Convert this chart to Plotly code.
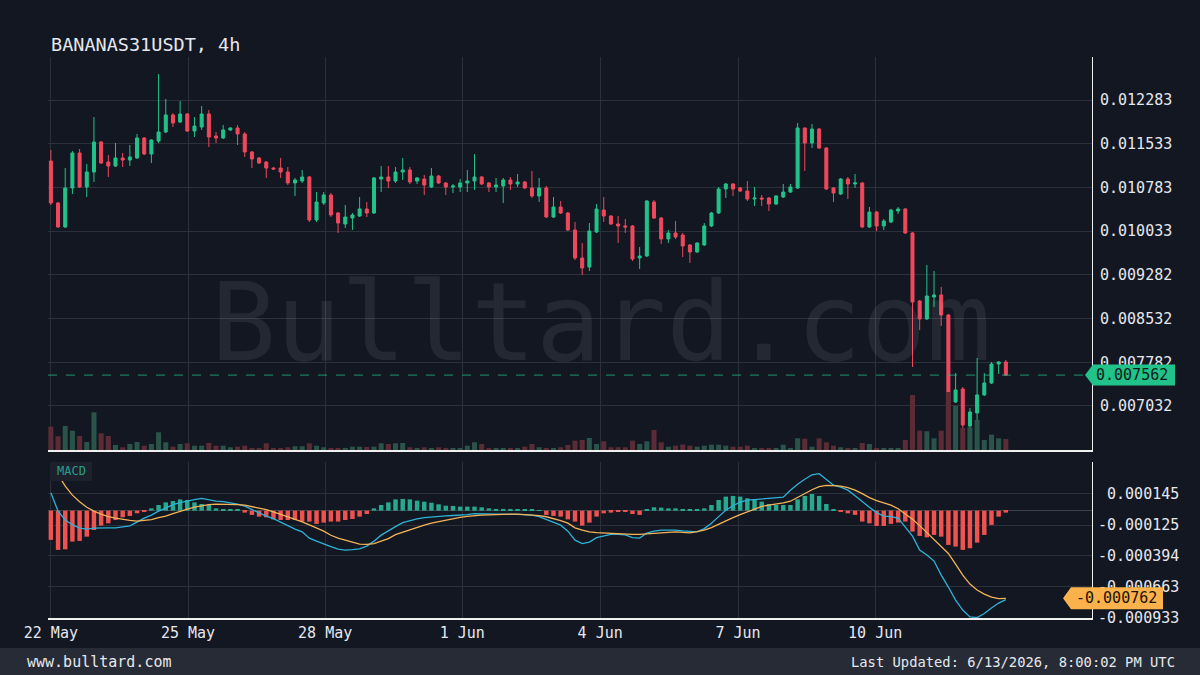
import plotly.graph_objects as go

# 4h candles, 22 May - 13 Jun
opens = [
    0.011236, 0.010516, 0.010104, 0.010773, 0.011374, 0.010790, 0.011047, 0.011562, 0.011219, 0.011150,
    0.011288, 0.011253, 0.011288, 0.011631, 0.011356, 0.011579, 0.011734, 0.012026, 0.011905, 0.012043,
    0.011751, 0.011820, 0.012043, 0.011665, 0.011631, 0.011768, 0.011803, 0.011700, 0.011391, 0.011288,
    0.011219, 0.011116, 0.011116, 0.011047, 0.010859, 0.010893, 0.010962, 0.010224, 0.010516, 0.010653,
    0.010344, 0.010155, 0.010258, 0.010292, 0.010413, 0.010344, 0.010927, 0.010962, 0.010893, 0.011047,
    0.011082, 0.010893, 0.010927, 0.010790, 0.010979, 0.010859, 0.010790, 0.010790, 0.010859, 0.010893,
    0.010962, 0.010859, 0.010790, 0.010807, 0.010910, 0.010842, 0.010876, 0.010773, 0.010636, 0.010773,
    0.010275, 0.010447, 0.010344, 0.010052, 0.009572, 0.009417, 0.010018, 0.010395, 0.010292, 0.010155,
    0.010121, 0.010121, 0.009572, 0.009606, 0.010533, 0.010258, 0.009898, 0.010001, 0.009966, 0.009795,
    0.009675, 0.009795, 0.010121, 0.010344, 0.010756, 0.010842, 0.010773, 0.010721, 0.010584, 0.010601,
    0.010601, 0.010498, 0.010618, 0.010704, 0.010773, 0.011803, 0.011545, 0.011785, 0.011459, 0.010773,
    0.010670, 0.010927, 0.010842, 0.010859, 0.010104, 0.010361, 0.010121, 0.010189, 0.010378, 0.010413,
    0.010001, 0.008834, 0.008525, 0.008902, 0.008937, 0.008594, 0.007101, 0.007324, 0.006689, 0.006912,
    0.007221, 0.007427, 0.007753, 0.007787,
]
highs = [
    0.011425, 0.010533, 0.011116, 0.011408, 0.011442, 0.011185, 0.011991, 0.011579, 0.011339, 0.011545,
    0.011374, 0.011511, 0.011700, 0.011648, 0.011610, 0.012729, 0.012300, 0.012060, 0.012266, 0.012060,
    0.011991, 0.012180, 0.012111, 0.011734, 0.011854, 0.011815, 0.011854, 0.011734, 0.011408, 0.011305,
    0.011236, 0.011133, 0.011288, 0.011133, 0.010945, 0.011082, 0.010979, 0.010704, 0.010704, 0.010687,
    0.010361, 0.010481, 0.010344, 0.010618, 0.010533, 0.010962, 0.011150, 0.011150, 0.011133, 0.011288,
    0.011133, 0.010962, 0.010996, 0.011116, 0.010996, 0.010876, 0.010842, 0.010927, 0.011082, 0.011356,
    0.010979, 0.010876, 0.010945, 0.010945, 0.010962, 0.011013, 0.010893, 0.011065, 0.010945, 0.010807,
    0.010618, 0.010550, 0.010361, 0.010189, 0.009829, 0.010172, 0.010498, 0.010618, 0.010310, 0.010292,
    0.010241, 0.010138, 0.009760, 0.010567, 0.010567, 0.010275, 0.010052, 0.010207, 0.010001, 0.009812,
    0.009845, 0.010172, 0.010361, 0.010790, 0.010859, 0.010859, 0.010790, 0.010893, 0.010790, 0.010653,
    0.010618, 0.010653, 0.010842, 0.010842, 0.011888, 0.011810, 0.011871, 0.011803, 0.011476, 0.010790,
    0.010945, 0.010962, 0.011013, 0.010876, 0.010447, 0.010378, 0.010241, 0.010413, 0.010447, 0.010430,
    0.010018, 0.008851, 0.009452, 0.009349, 0.009074, 0.008611, 0.007598, 0.007358, 0.006998, 0.007856,
    0.007598, 0.007787, 0.007804, 0.007821,
]
lows = [
    0.010481, 0.010087, 0.010087, 0.010670, 0.010773, 0.010618, 0.010876, 0.011185, 0.010962, 0.011133,
    0.011133, 0.011150, 0.011271, 0.011339, 0.011202, 0.011545, 0.011717, 0.011820, 0.011888, 0.011734,
    0.011648, 0.011768, 0.011476, 0.011545, 0.011614, 0.011751, 0.011511, 0.011305, 0.011116, 0.011185,
    0.010945, 0.011082, 0.010945, 0.010824, 0.010636, 0.010859, 0.010189, 0.010189, 0.010481, 0.010275,
    0.010001, 0.010087, 0.010052, 0.010275, 0.010275, 0.010327, 0.010704, 0.010773, 0.010859, 0.010910,
    0.010842, 0.010842, 0.010653, 0.010773, 0.010842, 0.010653, 0.010687, 0.010704, 0.010704, 0.010739,
    0.010824, 0.010704, 0.010704, 0.010516, 0.010739, 0.010790, 0.010756, 0.010601, 0.010533, 0.010258,
    0.010258, 0.010327, 0.010035, 0.009537, 0.009280, 0.009349, 0.010001, 0.010189, 0.010138, 0.009829,
    0.010001, 0.009520, 0.009383, 0.009589, 0.010241, 0.009812, 0.009829, 0.009898, 0.009589, 0.009486,
    0.009658, 0.009778, 0.010104, 0.010327, 0.010601, 0.010636, 0.010704, 0.010550, 0.010464, 0.010464,
    0.010378, 0.010481, 0.010601, 0.010687, 0.010756, 0.011065, 0.011459, 0.011442, 0.010739, 0.010533,
    0.010653, 0.010584, 0.010773, 0.010087, 0.010087, 0.010035, 0.010052, 0.010172, 0.010327, 0.009984,
    0.007701, 0.008336, 0.008508, 0.008731, 0.008405, 0.007084, 0.007084, 0.006655, 0.006620, 0.006792,
    0.007204, 0.007410, 0.007581, 0.007547,
]
closes = [
    0.010516, 0.010104, 0.010773, 0.011374, 0.010790, 0.011047, 0.011562, 0.011202, 0.011150, 0.011288,
    0.011253, 0.011305, 0.011631, 0.011356, 0.011597, 0.011734, 0.012026, 0.011888, 0.012043, 0.011751,
    0.011837, 0.012043, 0.011648, 0.011631, 0.011768, 0.011803, 0.011700, 0.011391, 0.011271, 0.011202,
    0.011116, 0.011099, 0.011047, 0.010859, 0.010910, 0.010962, 0.010224, 0.010533, 0.010653, 0.010310,
    0.010172, 0.010275, 0.010310, 0.010413, 0.010344, 0.010945, 0.010962, 0.010893, 0.011047, 0.011082,
    0.010876, 0.010945, 0.010824, 0.010979, 0.010859, 0.010790, 0.010807, 0.010859, 0.010893, 0.010962,
    0.010842, 0.010790, 0.010824, 0.010910, 0.010842, 0.010876, 0.010773, 0.010636, 0.010773, 0.010275,
    0.010447, 0.010344, 0.010052, 0.009572, 0.009400, 0.010035, 0.010413, 0.010292, 0.010155, 0.010121,
    0.010104, 0.009555, 0.009606, 0.010550, 0.010258, 0.009898, 0.010001, 0.009932, 0.009778, 0.009675,
    0.009829, 0.010121, 0.010344, 0.010756, 0.010842, 0.010756, 0.010721, 0.010584, 0.010601, 0.010584,
    0.010498, 0.010636, 0.010704, 0.010790, 0.011803, 0.011545, 0.011785, 0.011459, 0.010756, 0.010687,
    0.010927, 0.010842, 0.010859, 0.010104, 0.010361, 0.010121, 0.010207, 0.010395, 0.010413, 0.010001,
    0.008817, 0.008525, 0.008920, 0.008937, 0.008594, 0.007101, 0.007307, 0.006706, 0.006929, 0.007221,
    0.007427, 0.007753, 0.007787, 0.007562,
]
# volume, arbitrary units (no axis shown)
volume = [
    233, 137, 240, 193, 140, 80, 377, 167, 140, 50,
    27, 60, 80, 43, 60, 177, 77, 33, 60, 67,
    43, 43, 70, 43, 43, 27, 33, 43, 20, 20,
    67, 20, 20, 27, 37, 37, 67, 43, 27, 20,
    20, 20, 33, 33, 30, 33, 67, 60, 67, 70,
    27, 20, 27, 20, 27, 17, 17, 17, 43, 77,
    60, 17, 17, 20, 20, 20, 33, 60, 27, 20,
    20, 27, 50, 93, 100, 120, 60, 87, 27, 27,
    27, 93, 60, 87, 200, 77, 33, 43, 55, 43,
    33, 43, 53, 53, 43, 33, 33, 43, 20, 20,
    20, 20, 53, 10, 117, 113, 33, 117, 77, 43,
    27, 20, 20, 70, 60, 17, 10, 10, 10, 100,
    550, 193, 187, 117, 193, 580, 443, 220, 227, 300,
    100, 153, 117, 110,
]
macd_line = [
    0.000155, -0.000004, -0.000082, -0.000122, -0.000152, -0.000161, -0.000152, -0.000149, -0.000150, -0.000150,
    -0.000141, -0.000132, -0.000100, -0.000065, -0.000039, -0.000004, 0.000022, 0.000052, 0.000069, 0.000085,
    0.000095, 0.000106, 0.000091, 0.000082, 0.000078, 0.000069, 0.000056, 0.000039, 0.000009, -0.000022,
    -0.000048, -0.000069, -0.000100, -0.000130, -0.000161, -0.000184, -0.000239, -0.000265, -0.000291, -0.000312,
    -0.000334, -0.000343, -0.000339, -0.000332, -0.000308, -0.000265, -0.000213, -0.000174, -0.000139, -0.000104,
    -0.000087, -0.000072, -0.000061, -0.000054, -0.000048, -0.000045, -0.000042, -0.000039, -0.000035, -0.000026,
    -0.000026, -0.000029, -0.000030, -0.000030, -0.000032, -0.000033, -0.000036, -0.000038, -0.000052, -0.000078,
    -0.000100, -0.000126, -0.000178, -0.000256, -0.000286, -0.000273, -0.000234, -0.000217, -0.000206, -0.000206,
    -0.000211, -0.000234, -0.000239, -0.000195, -0.000178, -0.000169, -0.000169, -0.000169, -0.000176, -0.000183,
    -0.000184, -0.000156, -0.000109, -0.000052, 0.000004, 0.000043, 0.000074, 0.000091, 0.000095, 0.000100,
    0.000104, 0.000109, 0.000117, 0.000178, 0.000230, 0.000273, 0.000312, 0.000321, 0.000273, 0.000221,
    0.000204, 0.000178, 0.000130, 0.000078, 0.000030, -0.000017, -0.000048, -0.000052, -0.000065, -0.000143,
    -0.000221, -0.000343, -0.000386, -0.000438, -0.000560, -0.000664, -0.000777, -0.000864, -0.000924, -0.000930,
    -0.000894, -0.000846, -0.000803, -0.000773,
]
signal_line = [
    0.000415, 0.000317, 0.000213, 0.000135, 0.000078, 0.000030, -0.000004, -0.000030, -0.000052, -0.000065,
    -0.000076, -0.000085, -0.000091, -0.000087, -0.000078, -0.000061, -0.000048, -0.000026, -0.000004, 0.000013,
    0.000030, 0.000043, 0.000052, 0.000056, 0.000056, 0.000056, 0.000052, 0.000048, 0.000035, 0.000023,
    0.000009, -0.000011, -0.000032, -0.000052, -0.000074, -0.000097, -0.000123, -0.000150, -0.000178, -0.000214,
    -0.000239, -0.000256, -0.000273, -0.000291, -0.000293, -0.000286, -0.000265, -0.000243, -0.000208, -0.000187,
    -0.000165, -0.000148, -0.000126, -0.000109, -0.000095, -0.000082, -0.000069, -0.000058, -0.000050, -0.000043,
    -0.000039, -0.000036, -0.000032, -0.000030, -0.000030, -0.000030, -0.000033, -0.000037, -0.000044, -0.000053,
    -0.000069, -0.000087, -0.000109, -0.000149, -0.000169, -0.000184, -0.000191, -0.000195, -0.000198, -0.000202,
    -0.000206, -0.000207, -0.000206, -0.000202, -0.000198, -0.000193, -0.000187, -0.000184, -0.000188, -0.000193,
    -0.000182, -0.000169, -0.000148, -0.000117, -0.000087, -0.000061, -0.000035, -0.000009, 0.000013, 0.000037,
    0.000048, 0.000056, 0.000068, 0.000082, 0.000117, 0.000148, 0.000182, 0.000208, 0.000220, 0.000217,
    0.000213, 0.000200, 0.000178, 0.000148, 0.000113, 0.000087, 0.000065, 0.000048, 0.000017, -0.000030,
    -0.000074, -0.000130, -0.000191, -0.000243, -0.000308, -0.000372, -0.000464, -0.000560, -0.000638, -0.000690,
    -0.000725, -0.000751, -0.000764, -0.000762,
]
macd_hist = [
    -0.000254, -0.000341, -0.000336, -0.000269, -0.000263, -0.000226, -0.000168, -0.000130, -0.000110, -0.000081,
    -0.000058, -0.000046, -0.000023, -0.000006, 0.000020, 0.000049, 0.000072, 0.000084, 0.000098, 0.000093,
    0.000072, 0.000058, 0.000049, 0.000020, 0.000011, 0.000011, 0.000006, -0.000017, -0.000037, -0.000052,
    -0.000058, -0.000076, -0.000081, -0.000081, -0.000081, -0.000095, -0.000095, -0.000115, -0.000104, -0.000095,
    -0.000095, -0.000081, -0.000072, -0.000052, -0.000029, 0.000020, 0.000049, 0.000072, 0.000098, 0.000102,
    0.000098, 0.000087, 0.000078, 0.000069, 0.000055, 0.000043, 0.000041, 0.000035, 0.000035, 0.000035,
    0.000029, 0.000020, 0.000015, 0.000015, 0.000011, 0.000011, 0.000009, 0.000006, 0.000003, -0.000037,
    -0.000046, -0.000052, -0.000076, -0.000095, -0.000130, -0.000104, -0.000052, -0.000023, -0.000017, -0.000006,
    -0.000006, -0.000029, -0.000037, 0.000011, 0.000029, 0.000026, 0.000020, 0.000020, 0.000011, 0.000006,
    0.000006, 0.000020, 0.000049, 0.000093, 0.000122, 0.000128, 0.000122, 0.000107, 0.000093, 0.000078,
    0.000058, 0.000049, 0.000049, 0.000049, 0.000098, 0.000128, 0.000145, 0.000128, 0.000058, 0.000011,
    -0.000009, -0.000023, -0.000037, -0.000095, -0.000110, -0.000133, -0.000133, -0.000115, -0.000104, -0.000095,
    -0.000182, -0.000220, -0.000232, -0.000211, -0.000226, -0.000298, -0.000312, -0.000341, -0.000327, -0.000278,
    -0.000211, -0.000124, -0.000052, -0.000017,
]

date_ticks = [0, 19.1, 38.2, 57.3, 76.5, 95.7, 114.8]
date_labels = ["22 May", "25 May", "28 May", "1 Jun", "4 Jun", "7 Jun", "10 Jun"]
price_ticks = [0.007032, 0.007782, 0.008532, 0.009282, 0.010033, 0.010783, 0.011533, 0.012283]
macd_ticks = [0.000145, -0.000125, -0.000394, -0.000663, -0.000933]

BG = "#131722"
GRID = "#2c303b"
UP = "#22c38a"
DOWN = "#f0485c"
FONT = "DejaVu Sans Mono"
TXT = "#e6e8ee"

bars = list(range(len(closes)))
vol_colors = ["#2a5349" if c >= o else "#5b2c36" for o, c in zip(opens, closes)]
hist_colors = ["#27a98f" if h >= 0 else "#ef5350" for h in macd_hist]

fig = go.Figure()
fig.add_trace(go.Bar(x=bars, y=volume, marker_color=vol_colors, marker_line_width=0,
                     width=0.7, xaxis="x", yaxis="y2", hoverinfo="skip"))
fig.add_trace(go.Candlestick(x=bars, open=opens, high=highs, low=lows, close=closes,
                             xaxis="x", yaxis="y",
                             increasing=dict(line=dict(color=UP, width=1), fillcolor=UP),
                             decreasing=dict(line=dict(color=DOWN, width=1), fillcolor=DOWN)))
fig.add_trace(go.Bar(x=bars, y=macd_hist, marker_color=hist_colors, marker_line_width=0,
                     width=0.62, xaxis="x2", yaxis="y3", hoverinfo="skip"))
fig.add_trace(go.Scatter(x=bars, y=macd_line, mode="lines", line=dict(color="#2db3d8", width=1.3),
                         xaxis="x2", yaxis="y3"))
fig.add_trace(go.Scatter(x=bars, y=signal_line, mode="lines", line=dict(color="#f4b357", width=1.3),
                         xaxis="x2", yaxis="y3"))

# plot area: x 48..1092 px, y 57..618 px
def px(x):
    return (x - 48) / 1044

def py(y):
    return (618 - y) / 561

last = closes[-1]
sig = signal_line[-1]
h1 = 0.000180
h2 = 0.0000955
shapes = [
    dict(type="line", xref="paper", yref="y", x0=0, x1=1, y0=last, y1=last,
         line=dict(color="rgba(34,195,138,0.75)", width=1, dash="dash"), layer="above"),
    dict(type="path", xref="paper", yref="y", fillcolor=UP, line=dict(width=0), layer="above",
         path=f"M {px(1085)},{last} L {px(1093)},{last + h1} L {px(1175)},{last + h1} "
              f"L {px(1175)},{last - h1} L {px(1093)},{last - h1} Z"),
    dict(type="path", xref="paper", yref="y3", fillcolor="#fbb24c", line=dict(width=0), layer="above",
         path=f"M {px(1063)},{sig} L {px(1071)},{sig + h2} L {px(1163)},{sig + h2} "
              f"L {px(1163)},{sig - h2} L {px(1071)},{sig - h2} Z"),
    dict(type="rect", xref="paper", yref="paper", x0=px(50), x1=px(92), y0=py(481), y1=py(462),
         fillcolor="#1d212b", line=dict(width=0), layer="above"),
    dict(type="rect", xref="paper", yref="paper", x0=px(0), x1=px(1200), y0=py(676), y1=py(648),
         fillcolor="#272b35", line=dict(width=0), layer="below"),
]

annotations = [
    dict(text="Bulltard.com", xref="paper", yref="paper", x=px(601), y=py(322),
         xanchor="center", yanchor="middle", showarrow=False,
         font=dict(family=FONT, size=108, color="rgba(255,255,255,0.075)")),
    dict(text="BANANAS31USDT, 4h", xref="paper", yref="paper", x=px(49), y=py(45),
         xanchor="left", yanchor="middle", showarrow=False,
         font=dict(family=FONT, size=18.5, color=TXT)),
    dict(text="0.007562", xref="paper", yref="y", x=px(1132), y=last,
         xanchor="center", yanchor="middle", showarrow=False,
         font=dict(family=FONT, size=15, color="#0b1a14")),
    dict(text="-0.000762", xref="paper", yref="y3", x=px(1116), y=sig,
         xanchor="center", yanchor="middle", showarrow=False,
         font=dict(family=FONT, size=15, color="#1a1206")),
    dict(text="MACD", xref="paper", yref="paper", x=px(71), y=py(471),
         xanchor="center", yanchor="middle", showarrow=False,
         font=dict(family=FONT, size=12, color="#2a9d8f")),
    dict(text="www.bulltard.com", xref="paper", yref="paper", x=px(25), y=py(662),
         xanchor="left", yanchor="middle", showarrow=False,
         font=dict(family=FONT, size=15, color=TXT)),
    dict(text="Last Updated: 6/13/2026, 8:00:02 PM UTC", xref="paper", yref="paper",
         x=px(1177), y=py(662), xanchor="right", yanchor="middle", showarrow=False,
         font=dict(family=FONT, size=13.8, color=TXT)),
]

fig.update_layout(
    width=1200, height=675,
    paper_bgcolor=BG, plot_bgcolor=BG,
    margin=dict(l=48, r=108, t=57, b=57),
    showlegend=False, hovermode=False, barmode="overlay", boxgap=0.4,
    font=dict(family=FONT, size=15, color=TXT),
    xaxis=dict(domain=[0, 1], anchor="y", range=[-0.4, 145.0], tickvals=date_ticks,
               showticklabels=False, showgrid=True, gridcolor=GRID, zeroline=False,
               showline=True, linecolor="#f0f0f0", linewidth=2, ticks="",
               rangeslider=dict(visible=False)),
    xaxis2=dict(domain=[0, 1], anchor="y3", matches="x", tickvals=date_ticks, ticktext=date_labels,
                showgrid=True, gridcolor=GRID, zeroline=False, showline=True,
                linecolor="#f0f0f0", linewidth=2, ticks="",
                tickfont=dict(family=FONT, size=15, color=TXT)),
    yaxis=dict(domain=[0.2995, 1], anchor="x", side="right", range=[0.006277, 0.013021],
               tickvals=price_ticks, ticktext=[f"{v:.6f}" for v in price_ticks],
               showgrid=True, gridcolor=GRID, zeroline=False, showline=True,
               linecolor="#f0f0f0", linewidth=1, ticks="", ticklabelstandoff=4,
               tickfont=dict(family=FONT, size=15, color=TXT)),
    yaxis2=dict(overlaying="y", anchor="x", range=[0, 3930], visible=False),
    yaxis3=dict(domain=[0, 0.2781], anchor="x2", side="right", range=[-0.000933, 0.000423],
                tickvals=macd_ticks,
                ticktext=[("\u00a0" if v >= 0 else "") + f"{v:.6f}" for v in macd_ticks],
                showgrid=True, gridcolor=GRID, zeroline=True, zerolinecolor="#3c404b",
                zerolinewidth=1, showline=True, linecolor="#f0f0f0", linewidth=1, ticks="",
                ticklabelstandoff=2, tickfont=dict(family=FONT, size=15, color=TXT)),
    shapes=shapes,
    annotations=annotations,
)

fig.write_html("out.html", config={"displayModeBar": False},
               post_script="document.body.style.margin='0';document.body.style.background='#131722';")
